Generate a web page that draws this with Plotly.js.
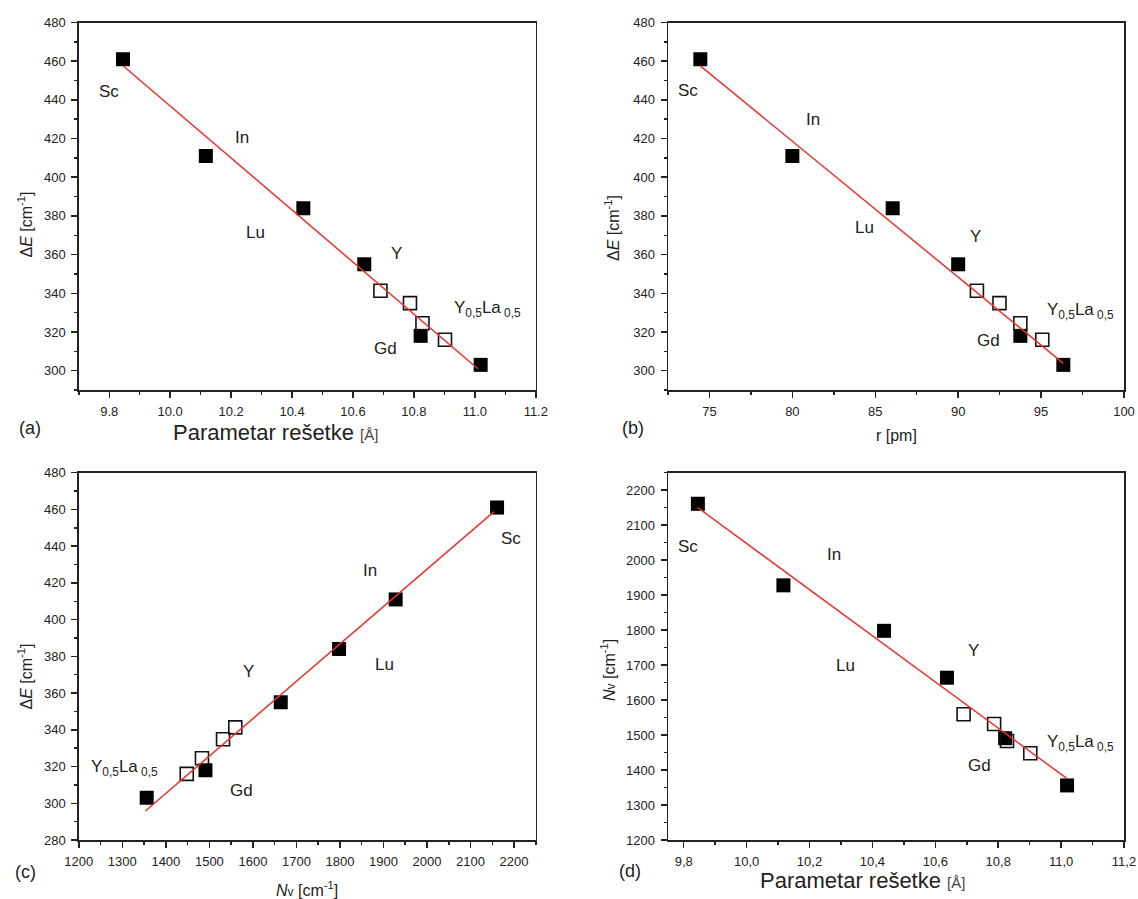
<!DOCTYPE html>
<html>
<head>
<meta charset="utf-8">
<script src="https://cdn.plot.ly/plotly-3.0.1.min.js"></script>
<style>html,body{margin:0;padding:0;background:#fff;}#chart{width:1138px;height:899px;}</style>
</head>
<body>
<div id="chart"></div>
<script>
// ---------- data ----------
const pointNames = ["Sc", "In", "Lu", "Y", "Gd", "Y<sub>0,5</sub>La<sub> 0,5</sub>"];

// filled squares
const latticeFilled = [9.845, 10.117, 10.437, 10.637, 10.822, 11.019];
const radiusFilled  = [74.45, 80.0, 86.05, 90.0, 93.75, 96.34];
const deltaEFilled  = [461, 411, 384, 355, 318, 303];
const nvFilled      = [2161, 1928, 1798, 1664, 1491, 1356];

// open squares
const latticeOpen = [10.690, 10.787, 10.828, 10.902];
const radiusOpen  = [91.13, 92.49, 93.75, 95.07];
const deltaEOpen  = [341.3, 334.9, 324.5, 316.0];
const nvOpen      = [1559.5, 1531.4, 1483.0, 1448.0];

// fitted lines (end points)
const fitA_x = [9.846, 11.010];  const fitA_y = [457.5, 301.0];
const fitB_x = [74.45, 96.34];   const fitB_y = [457.6, 303.8];
const fitC_x = [1353, 2154];     const fitC_y = [295.8, 458.8];
const fitD_x = [9.844, 11.018];  const fitD_y = [2150.5, 1376.0];

// tick labels
const latticeTickVals  = [9.8, 10.0, 10.2, 10.4, 10.6, 10.8, 11.0, 11.2];
const latticeTickTextA = ["9.8", "10.0", "10.2", "10.4", "10.6", "10.8", "11.0", "11.2"];
const latticeTickTextD = ["9,8", "10,0", "10,2", "10,4", "10,6", "10,8", "11,0", "11,2"];

// label positions (data coordinates) per panel, order as pointNames
const labelPosA = [[9.799,444.2],[10.237,420.5],[10.281,371.2],[10.744,360.6],[10.708,311.3],[11.042,331.7]];
const labelPosB = [[73.73,445.1],[81.24,430.1],[84.34,373.8],[91.02,369.6],[91.85,315.6],[97.36,331.1]];
const labelPosC = [[2194,444.3],[1868,427.0],[1901.5,375.3],[1590,371.7],[1573,307.2],[1304,319.0]];
const labelPosD = [[9.814,2038],[10.277,2016],[10.315,1700],[10.722,1743],[10.741,1414],[11.061,1478]];

// ---------- styling ----------
const FONT = "Liberation Sans, Arial, sans-serif";
const INK = "#222";
const W = 1138, H = 899;

function px(x) { return x / W; }
function py(y) { return 1 - y / H; }

function filledTrace(x, y, xa, ya) {
  return {x: x, y: y, xaxis: xa, yaxis: ya, type: "scatter", mode: "markers",
    marker: {symbol: "square", size: 14, color: "#000", line: {width: 0}},
    hoverinfo: "skip", showlegend: false};
}
function openTrace(x, y, xa, ya) {
  return {x: x, y: y, xaxis: xa, yaxis: ya, type: "scatter", mode: "markers",
    marker: {symbol: "square-open", size: 13, color: "#111", line: {width: 1.6, color: "#111"}},
    hoverinfo: "skip", showlegend: false};
}
function fitTrace(x, y, xa, ya) {
  return {x: x, y: y, xaxis: xa, yaxis: ya, type: "scatter", mode: "lines",
    line: {color: "#e8322e", width: 1.5}, hoverinfo: "skip", showlegend: false};
}

function axisBase(extra) {
  const base = {
    showline: true, linecolor: INK, linewidth: 1.5, mirror: true,
    ticks: "outside", ticklen: 6, tickwidth: 1.5, tickcolor: INK,
    showgrid: false, zeroline: false, automargin: false, fixedrange: true,
    tickfont: {family: FONT, size: 13, color: INK},
    ticklabelstandoff: 3
  };
  return Object.assign(base, extra);
}
function minorTicks(t0, dt) {
  return {ticks: "outside", ticklen: 3, tickwidth: 1.5, tickcolor: INK, showgrid: false, tick0: t0, dtick: dt};
}

const traces = [
  filledTrace(latticeFilled, deltaEFilled, "x", "y"),
  openTrace(latticeOpen, deltaEOpen, "x", "y"),
  fitTrace(fitA_x, fitA_y, "x", "y"),

  filledTrace(radiusFilled, deltaEFilled, "x2", "y2"),
  openTrace(radiusOpen, deltaEOpen, "x2", "y2"),
  fitTrace(fitB_x, fitB_y, "x2", "y2"),

  filledTrace(nvFilled, deltaEFilled, "x3", "y3"),
  openTrace(nvOpen, deltaEOpen, "x3", "y3"),
  fitTrace(fitC_x, fitC_y, "x3", "y3"),

  filledTrace(latticeFilled, nvFilled, "x4", "y4"),
  openTrace(latticeOpen, nvOpen, "x4", "y4"),
  fitTrace(fitD_x, fitD_y, "x4", "y4")
];

const domXL = [px(78.8), px(535.8)];
const domXR = [px(668), px(1124)];
const domYT = [py(390), py(22.5)];
const domYB = [py(840), py(472.7)];

const annotations = [];
function addLabels(pos, xa, ya) {
  pos.forEach((p, i) => {
    annotations.push({x: p[0], y: p[1], xref: xa, yref: ya, text: pointNames[i],
      showarrow: false, xanchor: "center", yanchor: "middle",
      font: {family: FONT, size: 17, color: INK}});
  });
}
addLabels(labelPosA, "x", "y");
addLabels(labelPosB, "x2", "y2");
addLabels(labelPosC, "x3", "y3");
addLabels(labelPosD, "x4", "y4");

function paperText(x, y, text, size, angle) {
  annotations.push({x: px(x), y: py(y), xref: "paper", yref: "paper", text: text,
    showarrow: false, xanchor: "center", yanchor: "middle", textangle: angle || 0,
    font: {family: FONT, size: size, color: INK}});
}
// panel letters
paperText(30, 428, "(a)", 18);
paperText(633, 428, "(b)", 18);
paperText(25, 871.5, "(c)", 18);
paperText(629.5, 870.5, "(d)", 18);
// axis titles
const lattTitle = "Parametar rešetke <span style='font-size:15px;color:#444'>[Å]</span>";
const deTitle = "Δ<span style='font-style:italic;font-size:16px'>E</span> [cm<sup>-1</sup>]";
const nvTitle = "<span style='font-style:italic;font-size:16px'>N</span><span style='font-size:12px'>v</span> [cm<sup>-1</sup>]";
paperText(275.5, 433, lattTitle, 22);
paperText(896, 435, "r [pm]", 16);
paperText(306.6, 889, nvTitle, 16);
paperText(862, 880, lattTitle, 22);
paperText(25.5, 225, deTitle, 16, -90);
paperText(612, 228, deTitle, 16, -90);
paperText(25.5, 677, deTitle, 16, -90);
paperText(608, 670, nvTitle, 16, -90);

const layout = {
  width: W, height: H,
  margin: {l: 0, r: 0, t: 0, b: 0},
  paper_bgcolor: "#fff", plot_bgcolor: "#fff",
  font: {family: FONT, color: INK},
  showlegend: false,
  xaxis: axisBase({domain: domXL, anchor: "y", range: [9.7, 11.2], tickmode: "array",
    tickvals: latticeTickVals, ticktext: latticeTickTextA, minor: minorTicks(9.7, 0.1)}),
  yaxis: axisBase({domain: domYT, anchor: "x", range: [290, 480], tick0: 300, dtick: 20,
    minor: minorTicks(290, 10)}),
  xaxis2: axisBase({domain: domXR, anchor: "y2", range: [72.5, 100], tick0: 75, dtick: 5,
    minor: minorTicks(72.5, 2.5)}),
  yaxis2: axisBase({domain: domYT, anchor: "x2", range: [290, 480], tick0: 300, dtick: 20,
    minor: minorTicks(290, 10)}),
  xaxis3: axisBase({domain: domXL, anchor: "y3", range: [1200, 2250], tick0: 1200, dtick: 100,
    minor: minorTicks(1200, 50)}),
  yaxis3: axisBase({domain: domYB, anchor: "x3", range: [280, 480], tick0: 280, dtick: 20,
    minor: minorTicks(280, 10)}),
  xaxis4: axisBase({domain: domXR, anchor: "y4", range: [9.75, 11.2], tickmode: "array",
    tickvals: latticeTickVals, ticktext: latticeTickTextD, minor: minorTicks(9.8, 0.1)}),
  yaxis4: axisBase({domain: domYB, anchor: "x4", range: [1200, 2250], tick0: 1200, dtick: 100,
    minor: minorTicks(1200, 50)}),
  annotations: annotations
};

Plotly.newPlot("chart", traces, layout, {staticPlot: true, displayModeBar: false});
</script>
</body>
</html>
